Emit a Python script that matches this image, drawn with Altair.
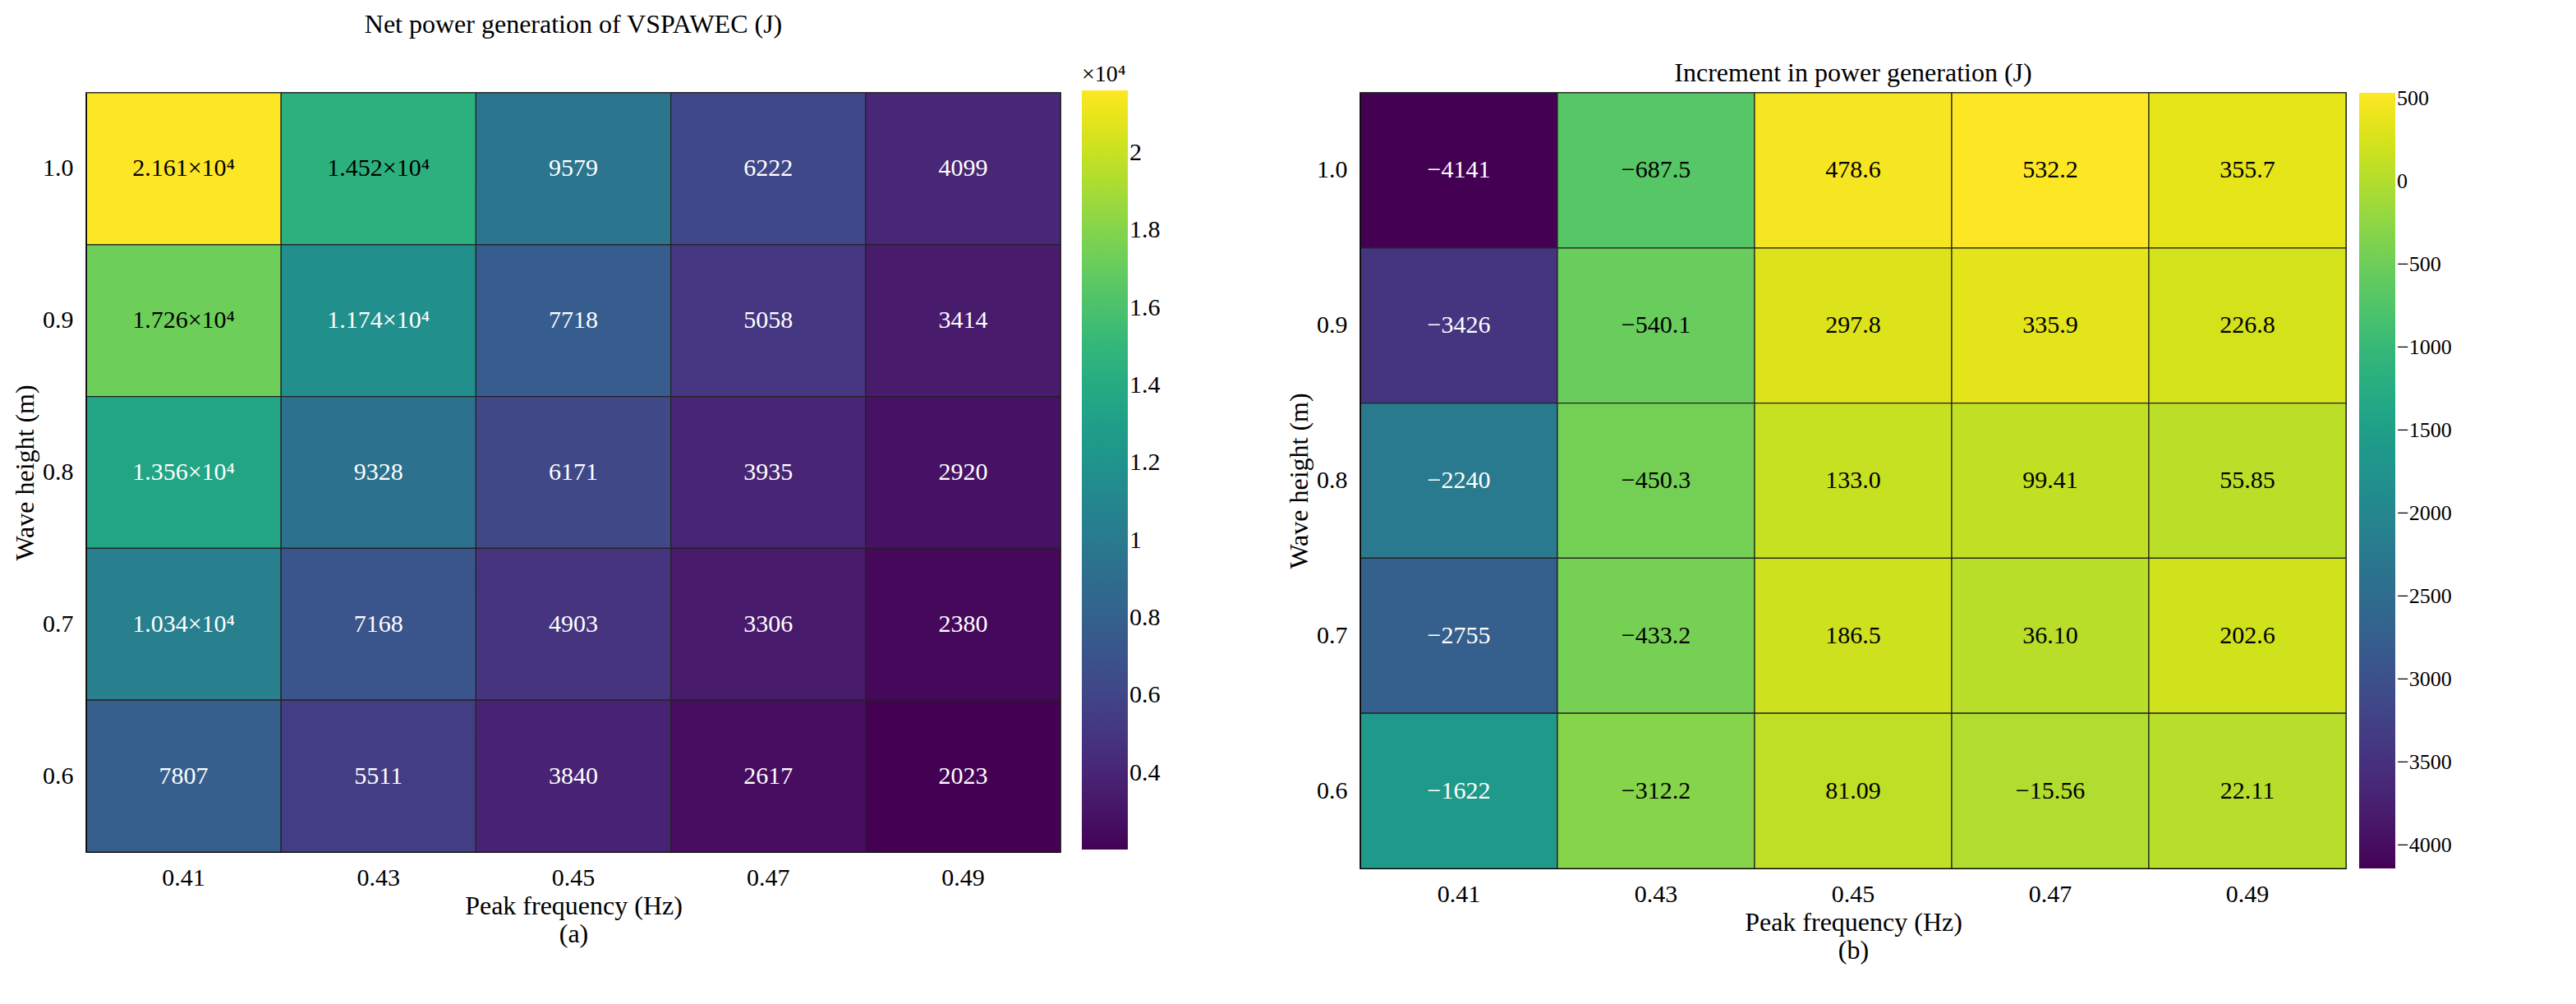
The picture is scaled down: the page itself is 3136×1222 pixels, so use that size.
import altair as alt
import pandas as pd

freqs = ["0.41", "0.43", "0.45", "0.47", "0.49"]
heights = ["1.0", "0.9", "0.8", "0.7", "0.6"]

# rows follow heights (1.0 at top), columns follow freqs
net_power = [
    [21610, 14520, 9579, 6222, 4099],
    [17260, 11740, 7718, 5058, 3414],
    [13560, 9328, 6171, 3935, 2920],
    [10340, 7168, 4903, 3306, 2380],
    [7807, 5511, 3840, 2617, 2023],
]
net_labels = [
    ["2.161×10⁴", "1.452×10⁴", "9579", "6222", "4099"],
    ["1.726×10⁴", "1.174×10⁴", "7718", "5058", "3414"],
    ["1.356×10⁴", "9328", "6171", "3935", "2920"],
    ["1.034×10⁴", "7168", "4903", "3306", "2380"],
    ["7807", "5511", "3840", "2617", "2023"],
]
increment = [
    [-4141, -687.5, 478.6, 532.2, 355.7],
    [-3426, -540.1, 297.8, 335.9, 226.8],
    [-2240, -450.3, 133.0, 99.41, 55.85],
    [-2755, -433.2, 186.5, 36.10, 202.6],
    [-1622, -312.2, 81.09, -15.56, 22.11],
]
inc_labels = [
    ["−4141", "−687.5", "478.6", "532.2", "355.7"],
    ["−3426", "−540.1", "297.8", "335.9", "226.8"],
    ["−2240", "−450.3", "133.0", "99.41", "55.85"],
    ["−2755", "−433.2", "186.5", "36.10", "202.6"],
    ["−1622", "−312.2", "81.09", "−15.56", "22.11"],
]

FONT = "Liberation Serif"


def frame(values, labels):
    rows = []
    for i, h in enumerate(heights):
        for j, f in enumerate(freqs):
            rows.append({"freq": f, "height": h, "value": values[i][j], "label": labels[i][j]})
    return pd.DataFrame(rows)


def axis():
    return alt.Axis(labelAngle=0, labelFontSize=30, titleFontSize=32, labelPadding=16, tickSize=0,
                    labelFont=FONT, titleFont=FONT, titleFontWeight="normal",
                    domainColor="black", labelColor="black", titleColor="black")


def panel(df, title, title_offset, caption, w, h, dom, legend, white_below):
    base = alt.Chart(df).encode(
        x=alt.X("freq:O", sort=freqs, title=["Peak frequency (Hz)", " ", caption], axis=axis()),
        y=alt.Y("height:O", sort=heights, title="Wave height (m)", axis=axis()),
    )
    rect = base.mark_rect(stroke="#222222", strokeWidth=1.2).encode(
        color=alt.Color("value:Q", scale=alt.Scale(scheme="viridis", domain=dom), legend=legend)
    )
    text = base.mark_text(fontSize=30, font=FONT).encode(
        text="label:N",
        color=alt.condition(alt.datum.value < white_below, alt.value("white"), alt.value("black")),
    )
    return (rect + text).properties(
        width=w, height=h,
        title=alt.TitleParams(title, fontSize=32, font=FONT, fontWeight="normal", offset=title_offset),
    )


leg_a = alt.Legend(title="×10⁴", titleFontSize=28, titleFontWeight="normal", titleFont=FONT,
                   orient="none", legendX=1212, legendY=-36, direction="vertical",
                   gradientLength=924, gradientThickness=56, labelFontSize=30, labelFont=FONT,
                   values=[4000, 6000, 8000, 10000, 12000, 14000, 16000, 18000, 20000],
                   labelExpr="datum.value/10000", gradientStrokeColor="black")
leg_b = alt.Legend(title=None, orient="right", offset=16, direction="vertical",
                   gradientLength=944, gradientThickness=44, labelFontSize=26, labelFont=FONT,
                   values=[500, 0, -500, -1000, -1500, -2000, -2500, -3000, -3500, -4000],
                   format="d", gradientStrokeColor="black")

a = panel(frame(net_power, net_labels), "Net power generation of VSPAWEC (J)", 30, "(a)",
          1186, 924, [2023, 21610], leg_a, 14000)
b = panel(frame(increment, inc_labels), "Increment in power generation (J)", 6, "(b)",
          1200, 944, [-4141, 532.2], leg_b, -1000)

chart = alt.hconcat(a, b, spacing=150).resolve_scale(color="independent").configure(
    font=FONT
).configure_view(stroke="black", strokeWidth=1.5).configure_legend(labelColor="black")

chart.save("out.html", embed_options={"renderer": "svg", "actions": False})
